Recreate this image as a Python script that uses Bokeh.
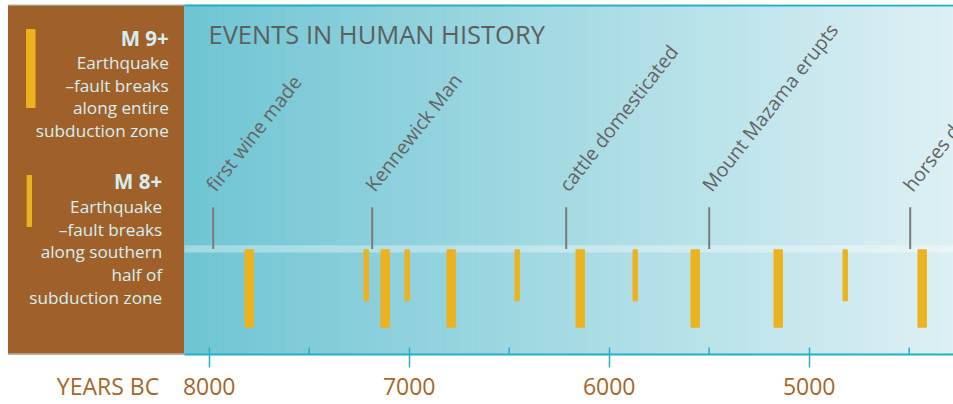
import numpy as np
from bokeh.plotting import figure
from bokeh.models import Range1d, FixedTicker, LinearAxis
from bokeh.core.properties import value
from bokeh.embed import file_html
from bokeh.resources import INLINE

# ---------------- data ----------------
m9_years = [7800, 7120, 6790, 6145, 5570, 5155, 4435]   # M 9+ earthquakes (years BC)
m8_years = [7215, 7010, 6460, 5870, 4820]               # M 8+ earthquakes (years BC)
event_years = [7980, 7185, 6215, 5500, 4495]
event_labels = ["first wine made", "Kennewick Man", "cattle domesticated",
                "Mount Mazama erupts", "horses domesticated"]
tick_years = [8000, 7000, 6000, 5000]
minor_tick_years = [7500, 6500, 5500, 4500]
legend_m9 = ["Earthquake", "\u2013fault breaks", "along entire", "subduction zone"]
legend_m8 = ["Earthquake", "\u2013fault breaks", "along southern", "half of", "subduction zone"]
axis_title = "YEARS BC"

# ---------------- layout helpers (page px -> data) ----------------
W, H = 953, 404
FRAME_TOP = 4.0
FRAME_BOTTOM = 354.0
PX_YEARS = 5.0
def X(px):
    return 8000 - PX_YEARS * (px - 208.7)
def Y(py):
    return FRAME_BOTTOM - py

BROWN = "#9f6129"
GOLD = "#ecb21f"
CYAN = "#22b0c7"
LABEL_BROWN = "#a5672c"
LEG = "#d6eef2"
FONT = "Open Sans"

p = figure(width=W, height=H, output_backend="svg", toolbar_location=None,
           x_range=Range1d(X(0), X(W)), y_range=Range1d(0, FRAME_BOTTOM - FRAME_TOP),
           y_axis_location=None, min_border_left=0, min_border_right=0,
           min_border_top=int(FRAME_TOP), min_border_bottom=50)
p.outline_line_color = None
p.xgrid.visible = False
p.ygrid.visible = False
p.background_fill_color = "white"
p.border_fill_color = "white"

# brown legend panel
p.quad(left=[X(8)], right=[X(184)], bottom=[Y(354)], top=[Y(4.5)], color=BROWN)
p.segment(x0=[X(8)], x1=[X(184)], y0=[Y(353.5)], y1=[Y(353.5)], line_color="#b8e4ea", line_width=1)
p.segment(x0=[X(8)], x1=[X(184)], y0=[Y(4.5)], y1=[Y(4.5)], line_color="#a8dde6", line_width=1)

# gradient background
edges = np.linspace(X(184), X(W), 121)
c0 = np.array([0x6f, 0xc5, 0xd3], float)
c1 = np.array([0xdd, 0xf0, 0xf4], float)
t = np.linspace(0, 1, len(edges) - 1)
cols = ["#%02x%02x%02x" % tuple(int(round(v)) for v in (c0 + (c1 - c0) * ti)) for ti in t]
p.quad(left=edges[:-1], right=edges[1:], bottom=0, top=FRAME_BOTTOM - FRAME_TOP, color=cols)

# top border line of the gradient panel
p.segment(x0=[X(184)], x1=[X(W)], y0=[Y(5)], y1=[Y(5)], line_color=CYAN, line_width=2)

# light horizontal band
p.quad(left=[X(184)], right=[X(W)], bottom=[Y(252)], top=[Y(244.7)],
       fill_color="white", fill_alpha=0.35, line_color=None)

# short inner ticks every 500 years (inside the panel, above the axis line)
p.segment(x0=minor_tick_years, x1=minor_tick_years, y0=[0] * len(minor_tick_years),
          y1=[7] * len(minor_tick_years), line_color=CYAN, line_width=1.5)

# event markers
p.segment(x0=event_years, x1=event_years, y0=[Y(206.7)] * len(event_years),
          y1=[Y(248.5)] * len(event_years), line_color="#7a7a7a", line_width=2)
p.text(x=event_years, y=[Y(188)] * len(event_years), text=event_labels,
       angle=52 * np.pi / 180, x_offset=-3, text_align="left", text_baseline="alphabetic",
       text_font=value(FONT), text_font_size=value("19.5px"), text_color="#646464")

# earthquake bars
p.vbar(x=m9_years, width=42, top=Y(249.3), bottom=Y(326.7), color=GOLD)
p.vbar(x=m8_years, width=22, top=Y(249.3), bottom=Y(300.3), color=GOLD)

# title
p.text(x=[X(208)], y=[Y(33.5)], text=["EVENTS IN HUMAN HISTORY"], text_align="left",
       text_baseline="alphabetic", text_font=value(FONT),
       text_font_size=value("25.5px"), text_color="#5e5e5e")

# legend
p.vbar(x=[X(30.3)], width=8.5 * PX_YEARS, top=Y(29), bottom=Y(107), color=GOLD)
p.vbar(x=[X(28.8)], width=4.4 * PX_YEARS, top=Y(175), bottom=Y(226), color=GOLD)
p.text(x=[X(168.3)], y=[Y(37.5)], text=["M 9+"], text_align="right", text_baseline="alphabetic",
       text_font=value(FONT), text_font_style="bold", text_font_size=value("20.5px"), text_color=LEG)
p.text(x=[X(168.3)] * len(legend_m9), y=[Y(v - 6.5) for v in [68.3, 91.0, 113.5, 136.7]], text=legend_m9,
       text_align="right", text_baseline="alphabetic", text_font=value(FONT),
       text_font_size=value("17.2px"), text_color=LEG)
p.text(x=[X(161.7)], y=[Y(180.3)], text=["M 8+"], text_align="right", text_baseline="alphabetic",
       text_font=value(FONT), text_font_style="bold", text_font_size=value("20.5px"), text_color=LEG)
p.text(x=[X(161.7)] * len(legend_m8), y=[Y(v - 6.5) for v in [212.3, 235.0, 257.7, 280.7, 303.3]], text=legend_m8,
       text_align="right", text_baseline="alphabetic", text_font=value(FONT),
       text_font_size=value("17.2px"), text_color=LEG)

# axis A (closest to the frame): axis line and the long 1000-year ticks, no labels
ax = p.xaxis[0]
ax.ticker = FixedTicker(ticks=[], minor_ticks=tick_years)
ax.bounds = (X(W), X(184))
ax.axis_label = None
ax.axis_line_color = CYAN
ax.axis_line_width = 2
ax.major_tick_line_color = None
ax.major_tick_in = 0
ax.major_tick_out = 13
ax.minor_tick_line_color = CYAN
ax.minor_tick_line_width = 1.5
ax.minor_tick_in = 7
ax.minor_tick_out = 13
ax.major_label_standoff = 0

# axis B: the tick labels, plus the axis title in the legend column
title_pos = round(X(107.5))
axb = LinearAxis(ticker=FixedTicker(ticks=[title_pos] + tick_years, minor_ticks=[]),
                 major_label_overrides={title_pos: axis_title})
axb.axis_line_color = None
axb.major_tick_line_color = None
axb.minor_tick_line_color = None
axb.major_tick_in = 0
axb.major_tick_out = 0
axb.major_label_standoff = 2
axb.major_label_text_font = FONT
axb.major_label_text_font_size = "23px"
axb.major_label_text_color = LABEL_BROWN
p.add_layout(axb, "below")

open("out.html", "w").write(file_html(p, INLINE))
